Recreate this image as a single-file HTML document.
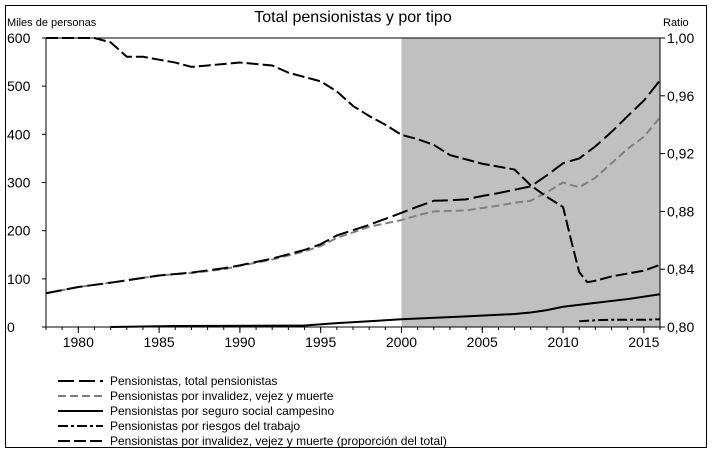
<!DOCTYPE html>
<html><head><meta charset="utf-8"><style>
body{margin:0;background:#fff}
svg{display:block;font-family:"Liberation Sans",Arial,sans-serif}
</style></head><body>
<svg id="c" width="726" height="469" viewBox="0 0 726 469">
<rect x="5.5" y="5.5" width="701" height="442" fill="#fff" stroke="#000"/>
<text x="353" y="22" font-size="16" text-anchor="middle">Total pensionistas y por tipo</text>
<text x="7" y="26" font-size="11">Miles de personas</text>
<text x="663" y="26" font-size="11">Ratio</text>
<g id="plot"></g>
<g id="legend" font-size="12"></g>
</svg>
<script>
const years=[1978,1980,1982,1985,1987,1989,1990,1992,1994,1995,1996,1998,2000,2001,2002,2003,2004,2005,2006,2007,2008,2009,2010,2011,2012,2013,2014,2015,2016];
const total=[70,83,92,107,113,122,128,142,160,172,190,212,237,250,262,263,265,272,278,285,292,315,340,350,375,405,438,470,512];
const ivm=[70,83,92,107,112,120,127,140,157,168,185,208,222,232,240,241,242,247,252,258,262,280,300,290,310,340,370,395,435];
const campYears=[1982,1986,1994,1996,1998,2000,2004,2007,2008,2009,2010,2012,2014,2016];
const camp=[0,2,3,8,12,16,22,27,30,35,42,50,58,68];
const riesgoYears=[2011,2012,2013,2014,2015,2016];
const riesgo=[12,14,15,15,15,16];
const ratioYears=[1978,1981,1982,1983,1984,1985,1986,1987,1988,1989,1990,1991,1992,1993,1994,1995,1996,1997,1998,1999,2000,2001,2002,2003,2004,2005,2006,2007,2008,2009,2010,2010.5,2011,2011.5,2012,2013,2014,2015,2016];
const ratio=[1.0,1.0,0.997,0.987,0.987,0.985,0.983,0.980,0.981,0.982,0.983,0.982,0.981,0.976,0.973,0.970,0.963,0.953,0.946,0.940,0.933,0.930,0.926,0.919,0.916,0.913,0.911,0.909,0.898,0.890,0.883,0.860,0.838,0.831,0.832,0.835,0.837,0.839,0.843];
const xTicks=[1980,1985,1990,1995,2000,2005,2010,2015];
const yTicks=[0,100,200,300,400,500,600];
const rTicks=["0,80","0,84","0,88","0,92","0,96","1,00"];
const rVals=[0.80,0.84,0.88,0.92,0.96,1.00];

const L=46,R=660,T=38,B=327,x0=1978,x1=2016;
const X=y=>L+(y-x0)/(x1-x0)*(R-L);
const Y=v=>B-v/600*(B-T);
const YR=r=>B-(r-0.8)/0.2*(B-T);
const NS="http://www.w3.org/2000/svg";
const g=document.getElementById('plot');
function mk(tag,at,par){const e=document.createElementNS(NS,tag);for(const k in at)e.setAttribute(k,at[k]);(par||g).appendChild(e);return e;}

let e=mk('rect',{x:X(2000),y:T,width:R-X(2000),height:B-T,fill:'#c0c0c0'});


e=mk('rect',{x:L,y:T,width:R-L,height:B-T,fill:'none',stroke:'#000'});



xTicks.forEach(t=>{
 mk('line',{x1:X(t),y1:B,x2:X(t),y2:B+6,stroke:'#000'});
 const tx=mk('text',{x:X(t),y:B+20,'font-size':14,'text-anchor':'middle'});tx.textContent=t;
 
 
});
for(let y=x0;y<=x1;y++)mk('line',{x1:X(y),y1:B,x2:X(y),y2:B+3,stroke:'#000'});
yTicks.forEach(t=>{
 mk('line',{x1:L-4,y1:Y(t),x2:L,y2:Y(t),stroke:'#000'});
 const tx=mk('text',{x:7,y:Y(t)+5,'font-size':14});tx.textContent=t;
 
 
});
rVals.forEach((r,i)=>{
 mk('line',{x1:R,y1:YR(r),x2:R+5,y2:YR(r),stroke:'#000'});
 const tx=mk('text',{x:R+7,y:YR(r)+5,'font-size':14});tx.textContent=rTicks[i];
 
 
});

function line(xs,vs,fy,st,dash,w,name){
 const p=mk('polyline',{points:xs.map((y,i)=>X(y)+','+fy(vs[i])).join(' '),fill:'none',stroke:st,'stroke-width':w,'stroke-dasharray':dash});
 
 
}
line(years,ivm,Y,'#808080','8,4',2,'series-invalidez-vejez-muerte');
line(years,total,Y,'#000','16,5',2,'series-total-pensionistas');
line(campYears,camp,Y,'#000','',2,'series-seguro-campesino');
line(riesgoYears,riesgo,Y,'#000','10,3,3,3',2,'series-riesgos-trabajo');
line(ratioYears,ratio,YR,'#000','12,4',2,'series-proporcion-ivm');

const lg=document.getElementById('legend');
const items=[["Pensionistas, total pensionistas",'#000','16,5'],["Pensionistas por invalidez, vejez y muerte",'#808080','8,4'],["Pensionistas por seguro social campesino",'#000',''],["Pensionistas por riesgos del trabajo",'#000','10,3,3,3'],["Pensionistas por invalidez, vejez y muerte (proporción del total)",'#000','12,4']];
items.forEach((it,i)=>{
 const y=381+i*15;
 const gi=mk('g',{},lg);
 
 
 mk('line',{x1:58,y1:y,x2:103,y2:y,stroke:it[1],'stroke-width':2,'stroke-dasharray':it[2]},gi);
 const t=mk('text',{x:110,y:y+4},gi);t.textContent=it[0];
});
</script>
</body></html>
